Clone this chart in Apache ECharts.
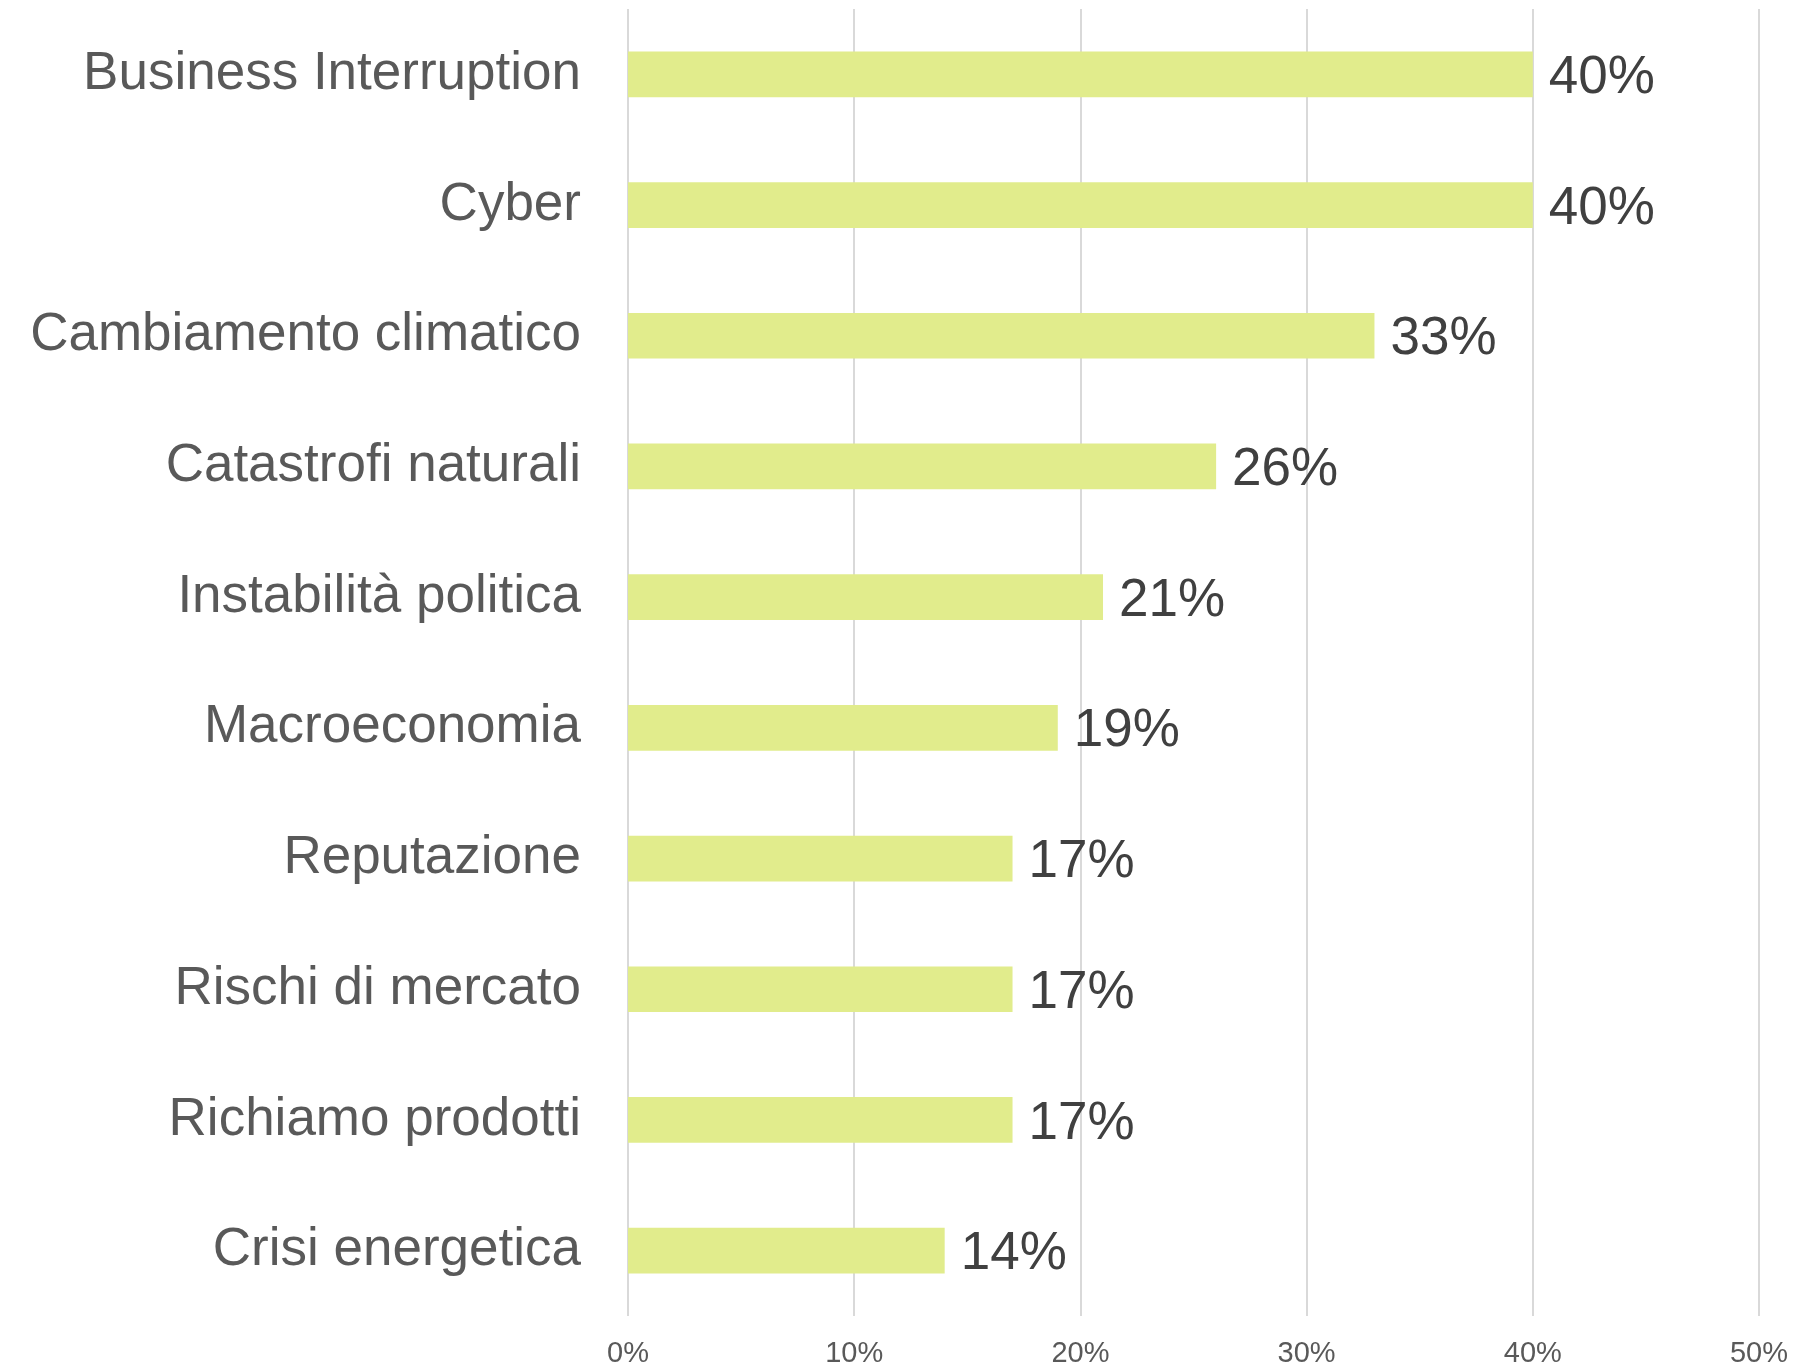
<!DOCTYPE html>
<html>
<head>
<meta charset="utf-8">
<script src="https://cdn.jsdelivr.net/npm/echarts@6/dist/echarts.min.js"></script>
<style>
  html, body { margin: 0; padding: 0; background: #fff; }
  #chart { width: 1797px; height: 1371px; }
</style>
</head>
<body>
<div id="chart"></div>
<script>
// categorie di rischio (dall'alto verso il basso)
const categories = [
  'Business Interruption',
  'Cyber',
  'Cambiamento climatico',
  'Catastrofi naturali',
  'Instabilità politica',
  'Macroeconomia',
  'Reputazione',
  'Rischi di mercato',
  'Richiamo prodotti',
  'Crisi energetica'
]
// percentuali
const values = [40, 40, 33, 26, 21, 19, 17, 17, 17, 14]
const axisMin = 0
const axisMax = 50
const axisStep = 10

const chart = echarts.init(document.getElementById('chart'))

chart.setOption({
  animation: false,
  textStyle: { fontFamily: 'Liberation Sans, Arial, sans-serif' },
  grid: {
    left: 628,
    right: 38,
    top: 9,
    bottom: 55
  },
  xAxis: {
    type: 'value',
    min: axisMin,
    max: axisMax,
    interval: axisStep,
    axisLine: { show: false },
    axisTick: { show: false },
    axisLabel: {
      formatter: '{value}%',
      fontSize: 29,
      color: '#595959',
      margin: 23
    },
    splitLine: {
      show: true,
      lineStyle: { color: '#d9d9d9', width: 2 }
    }
  },
  yAxis: {
    type: 'category',
    data: categories,
    inverse: true,
    axisLine: { show: false },
    axisTick: { show: false },
    axisLabel: {
      fontSize: 53,
      color: '#595959',
      margin: 47,
      padding: [10, 0, 0, 0]
    }
  },
  series: [
    {
      type: 'bar',
      data: values,
      barWidth: '35%',
      itemStyle: { color: '#e1ec8c' },
      label: {
        show: true,
        position: 'right',
        distance: 16,
        offset: [0, 4],
        formatter: '{c}%',
        fontSize: 53,
        color: '#404040'
      }
    }
  ]
})
</script>
</body>
</html>
